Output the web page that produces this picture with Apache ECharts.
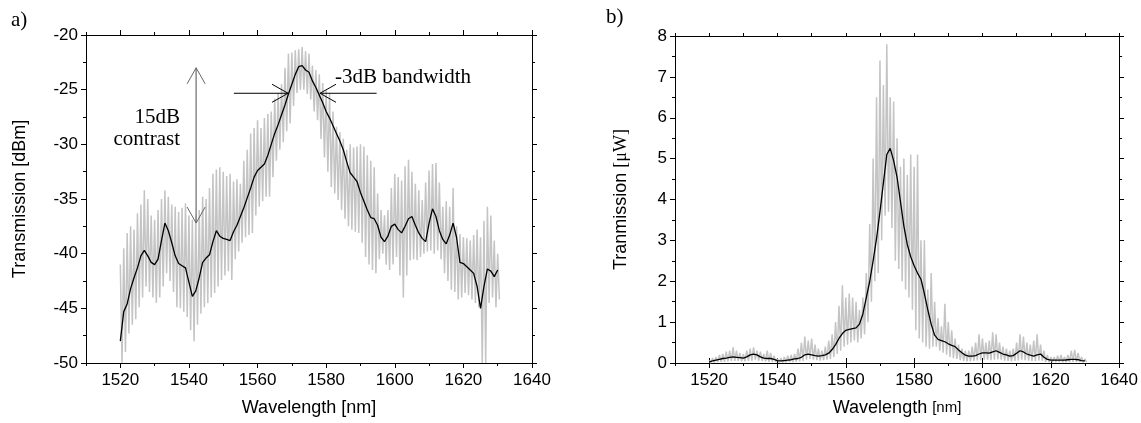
<!DOCTYPE html>
<html><head><meta charset="utf-8">
<script src="https://cdn.jsdelivr.net/npm/echarts@6/dist/echarts.min.js"></script>
<style>html,body{margin:0;padding:0;background:#fff}#c{width:1141px;height:423px}</style>
</head><body><div id="c"></div>
<script>
// wavelengths: 1520..1630 nm, 1 nm step
const wlStart = 1520;
const xMajorTicks = [1520, 1540, 1560, 1580, 1600, 1620, 1640];

// Panel a) Transmission [dBm]
const aSmooth = [
 -48.0,-45.3,-44.6,-43.2,-42.2,-41.3,-40.2,-39.7,-40.2,-40.8,
 -41.0,-40.5,-38.8,-37.2,-37.9,-39.0,-40.2,-40.9,-41.1,-41.3,
 -42.6,-43.9,-43.4,-42.2,-40.8,-40.4,-40.1,-38.9,-37.9,-38.4,
 -38.6,-38.7,-38.8,-38.0,-37.4,-36.6,-35.8,-34.9,-34.0,-33.0,
 -32.4,-32.1,-31.8,-31.0,-30.0,-29.0,-28.2,-27.3,-26.4,-25.4,
 -24.5,-23.6,-22.9,-22.8,-23.2,-23.4,-24.2,-24.8,-25.5,-26.2,
 -27.0,-27.6,-28.3,-29.0,-29.7,-30.5,-31.6,-32.6,-33.0,-33.4,
 -34.4,-35.2,-36.0,-36.7,-36.8,-37.4,-38.5,-38.9,-38.4,-37.5,
 -37.3,-37.8,-38.1,-37.5,-36.8,-36.6,-37.4,-38.1,-38.6,-38.9,
 -37.2,-35.9,-36.6,-37.9,-38.7,-39.1,-38.3,-37.2,-38.5,-40.8,
 -40.9,-41.2,-41.5,-41.8,-43.0,-45.0,-43.0,-41.4,-41.6,-42.1,
 -41.5];
const aRawHigh = [
 -41.0,-39.5,-38.1,-37.5,-37.8,-36.3,-35.5,-34.2,-35.0,-36.5,
 -36.9,-36.0,-35.0,-34.2,-34.8,-35.5,-35.7,-36.2,-35.8,-35.4,
 -36.5,-36.9,-36.5,-36.0,-34.8,-35.0,-34.0,-32.7,-32.3,-32.1,
 -32.5,-32.9,-32.7,-33.4,-33.2,-33.6,-31.5,-30.5,-29.0,-28.5,
 -27.8,-28.5,-27.6,-27.2,-27.0,-25.8,-25.3,-24.5,-23.0,-21.7,
 -21.6,-21.4,-21.3,-21.1,-21.5,-21.7,-22.8,-23.2,-23.6,-24.4,
 -25.0,-25.3,-27.0,-28.4,-28.9,-29.5,-30.5,-30.0,-30.3,-30.2,
 -30.0,-30.2,-31.0,-31.5,-32.1,-34.5,-36.0,-36.5,-36.0,-34.0,
 -32.7,-33.0,-33.3,-32.0,-31.4,-32.5,-33.6,-34.2,-35.1,-33.5,
 -32.4,-31.8,-31.7,-33.5,-35.7,-35.2,-35.7,-34.0,-37.5,-38.2,
 -38.5,-38.6,-38.8,-38.3,-37.8,-38.5,-37.0,-35.7,-36.5,-38.8,
 -40.0];
const aRawLow = [
 -50.0,-49.0,-47.3,-46.5,-46.0,-44.9,-44.0,-43.0,-43.5,-44.0,
 -44.5,-44.0,-43.0,-41.8,-42.5,-43.5,-44.9,-45.0,-45.3,-45.8,
 -47.0,-48.0,-46.5,-45.5,-44.9,-44.5,-44.0,-43.6,-43.0,-42.4,
 -42.0,-41.6,-42.4,-40.5,-39.8,-39.0,-38.5,-38.3,-38.1,-36.5,
 -35.7,-35.2,-34.8,-34.8,-33.0,-31.5,-30.5,-29.8,-28.8,-28.1,
 -26.5,-25.3,-25.0,-25.0,-25.4,-25.9,-27.0,-27.8,-29.5,-31.2,
 -32.5,-33.9,-34.5,-35.1,-36.0,-36.8,-37.5,-37.8,-38.0,-38.1,
 -39.0,-40.3,-41.0,-41.5,-41.8,-40.5,-40.0,-41.0,-41.5,-41.0,
 -40.3,-42.0,-44.0,-42.0,-40.6,-40.5,-40.6,-40.3,-40.0,-39.8,
 -39.7,-40.0,-39.7,-40.5,-41.8,-42.5,-43.3,-43.5,-44.2,-44.0,
 -43.6,-43.8,-44.2,-44.5,-44.9,-50.0,-50.0,-44.5,-44.0,-44.9,
 -44.2];

// Panel b) Tranmission [uW]
const bSmooth = [
 0.03,0.05,0.07,0.09,0.11,0.12,0.14,0.15,0.14,0.13,
 0.12,0.15,0.20,0.22,0.20,0.15,0.12,0.11,0.11,0.09,
 0.06,0.05,0.06,0.07,0.08,0.10,0.11,0.14,0.20,0.22,
 0.20,0.18,0.17,0.18,0.20,0.24,0.33,0.45,0.60,0.72,
 0.80,0.82,0.84,0.86,0.95,1.20,1.60,2.00,2.50,3.05,
 3.70,4.40,5.10,5.25,4.95,4.55,3.95,3.35,2.90,2.60,
 2.38,2.20,2.05,1.70,1.30,0.95,0.68,0.58,0.55,0.52,
 0.47,0.43,0.40,0.32,0.25,0.19,0.17,0.17,0.18,0.22,
 0.25,0.25,0.24,0.27,0.30,0.26,0.22,0.20,0.17,0.18,
 0.24,0.30,0.27,0.22,0.19,0.17,0.20,0.22,0.14,0.09,
 0.07,0.07,0.07,0.07,0.07,0.08,0.09,0.09,0.08,0.06,
 0.05];
const bRawHigh = [
 0.06,0.12,0.15,0.20,0.22,0.28,0.30,0.38,0.30,0.25,
 0.22,0.30,0.35,0.38,0.30,0.28,0.22,0.30,0.25,0.18,
 0.10,0.12,0.15,0.18,0.20,0.22,0.35,0.50,0.65,0.55,
 0.60,0.45,0.35,0.30,0.40,0.55,0.70,1.00,1.40,1.90,
 1.60,1.70,1.60,1.50,1.30,1.60,2.20,3.40,5.00,6.50,
 7.40,6.80,7.80,6.50,6.40,5.50,4.80,5.00,4.60,5.10,
 4.80,5.10,3.00,3.00,1.80,2.20,1.50,1.10,0.90,1.45,
 1.00,0.80,0.60,0.45,0.35,0.30,0.30,0.40,0.50,0.70,
 0.60,0.50,0.55,0.75,0.70,0.50,0.40,0.35,0.30,0.35,
 0.50,0.70,0.65,0.50,0.45,0.55,0.70,0.45,0.30,0.20,
 0.15,0.15,0.18,0.20,0.15,0.20,0.30,0.32,0.25,0.15,
 0.10];
const bRawLow = [
 0.00,0.01,0.02,0.03,0.03,0.04,0.05,0.05,0.05,0.04,
 0.04,0.05,0.06,0.08,0.06,0.05,0.04,0.03,0.03,0.02,
 0.01,0.01,0.01,0.02,0.02,0.03,0.04,0.05,0.08,0.10,
 0.08,0.07,0.06,0.07,0.08,0.10,0.15,0.22,0.30,0.40,
 0.45,0.50,0.55,0.50,0.60,0.70,1.00,1.50,2.00,2.20,
 3.00,3.60,3.70,3.30,2.50,2.30,2.00,1.80,1.60,1.30,
 0.80,0.60,0.50,0.40,0.35,0.40,0.40,0.30,0.25,0.20,
 0.15,0.12,0.10,0.07,0.05,0.04,0.04,0.05,0.06,0.07,
 0.08,0.08,0.07,0.08,0.09,0.08,0.06,0.05,0.04,0.05,
 0.06,0.08,0.07,0.06,0.05,0.05,0.06,0.05,0.03,0.02,
 0.02,0.02,0.02,0.02,0.02,0.02,0.03,0.03,0.02,0.02,
 0.02];

// annotations of panel a) in data coordinates
const annotArrows = [
  {tail:[1542.1,-37.2], tip:[1542.1,-23.0], both:true, color:'#888', head:'#666', width:1.5},
  {tail:[1553.1,-25.33], tip:[1568.9,-25.33], both:false, color:'#000', head:'#000', width:1},
  {tail:[1594.7,-25.33], tip:[1578.2,-25.33], both:false, color:'#000', head:'#000', width:1}
];
const annotTexts = [
  {text:'15dB', at:[1537.4,-27.55], align:'right'},
  {text:'contrast', at:[1537.4,-29.55], align:'right'},
  {text:'-3dB bandwidth', at:[1582.6,-23.9], align:'left'}
];

const wl = i => wlStart + i;
const line = arr => arr.map((v,i)=>[wl(i), v]);
const zigzag = (hi, lo) => { const out=[]; hi.forEach((h,i)=>{ out.push([wl(i),h]); out.push([wl(i)+0.5, lo[i]]); }); return out; };

const SANS = 'Liberation Sans', SERIF = 'Liberation Serif';
const black = '#000';

function xAxes(grid, name){
  const base = {gridIndex:grid, type:'value', min:1510, max:1640, splitLine:{show:false}};
  return [
    Object.assign({}, base, {position:'bottom', interval:10,
      axisLine:{show:true, onZero:false, lineStyle:{color:black, width:1}},
      axisTick:{show:true, length:3, lineStyle:{color:black}},
      axisLabel:{show:true, color:black, fontFamily:SANS, fontSize:17, margin:9,
        formatter: v => (v % 20 === 0 ? String(v) : '')},
      name:name, nameLocation:'middle', nameGap:36,
      nameTextStyle:{color:black, fontFamily:SANS, fontSize:18, rich:{
        a:{fontFamily:SANS, fontSize:18, color:black},
        b:{fontFamily:SANS, fontSize:15, color:black}}}}),
    Object.assign({}, base, {position:'bottom', axisLine:{show:false},
      axisTick:{show:true, length:5, customValues:xMajorTicks, lineStyle:{color:black}},
      axisLabel:{show:false}}),
    Object.assign({}, base, {position:'top', interval:10,
      axisLine:{show:true, onZero:false, lineStyle:{color:black, width:1}},
      axisTick:{show:true, length:3, lineStyle:{color:black}},
      axisLabel:{show:false}}),
    Object.assign({}, base, {position:'top', axisLine:{show:false},
      axisTick:{show:true, length:5, customValues:xMajorTicks, lineStyle:{color:black}},
      axisLabel:{show:false}})
  ];
}
function yAxes(grid, min, max, interval, name, gap){
  const base = {gridIndex:grid, type:'value', min:min, max:max, interval:interval, splitLine:{show:false},
    axisLine:{show:true, onZero:false, lineStyle:{color:black, width:1}},
    axisTick:{show:true, length:5, lineStyle:{color:black}},
    minorTick:{show:true, splitNumber:2, length:3, lineStyle:{color:black}},
    minorSplitLine:{show:false}};
  return [
    Object.assign({}, base, {position:'left',
      axisLabel:{show:true, color:black, fontFamily:SANS, fontSize:17, margin:8},
      name:name, nameLocation:'middle', nameGap:gap,
      nameTextStyle:{color:black, fontFamily:SANS, fontSize:18, rich:{
        a:{fontFamily:SANS, fontSize:18, color:black},
        b:{fontFamily:SERIF, fontSize:18, color:black}}}}),
    Object.assign({}, base, {position:'right', axisLabel:{show:false}})
  ];
}

function renderAnnot(params, api){
  if (params.dataIndex !== 0) return null;
  const ch = [];
  annotArrows.forEach(a => {
    const p0 = api.coord(a.tail), p1 = api.coord(a.tip);
    ch.push({type:'line', shape:{x1:p0[0], y1:p0[1], x2:p1[0], y2:p1[1]}, style:{stroke:a.color, lineWidth:a.width}});
    const heads = a.both ? [[p0,p1],[p1,p0]] : [[p0,p1]];
    heads.forEach(([f,t]) => {
      const dx=t[0]-f[0], dy=t[1]-f[1], L=Math.hypot(dx,dy), ux=dx/L, uy=dy/L;
      const bx=t[0]-ux*16, by=t[1]-uy*16;
      ch.push({type:'polyline', shape:{points:[[bx-uy*9, by+ux*9],[t[0],t[1]],[bx+uy*9, by-ux*9]]},
        style:{stroke:a.head, lineWidth:1, fill:null}});
    });
  });
  annotTexts.forEach(t => {
    const p = api.coord(t.at);
    ch.push({type:'text', x:p[0], y:p[1], style:{text:t.text, fill:black, fontFamily:SERIF, fontSize:21,
      align:t.align, verticalAlign:'middle'}});
  });
  return {type:'group', children:ch};
}

const chart = echarts.init(document.getElementById('c'), null, {renderer:'canvas'});
chart.setOption({
  animation:false,
  backgroundColor:'#fff',
  grid:[
    {left:86, top:35, width:446, height:328},
    {left:675, top:36, width:445, height:327}
  ],
  xAxis: [].concat(xAxes(0, '{a|Wavelength [nm]}'), xAxes(1, '{a|Wavelength }{b|[nm]}')),
  yAxis: [].concat(yAxes(0, -50, -20, 5, '{a|Transmission [dBm]}', 57), yAxes(1, 0, 8, 1, '{a|Tranmission }{b|[μW]}', 45)),
  graphic:[
    {type:'text', left:11, top:10, style:{text:'a)', fontFamily:SERIF, fontSize:21, fill:black}},
    {type:'text', left:606, top:7, style:{text:'b)', fontFamily:SERIF, fontSize:21, fill:black}}
  ],
  series:[
    {type:'line', xAxisIndex:0, yAxisIndex:0, data:zigzag(aRawHigh, aRawLow), showSymbol:false, symbol:'none',
      lineStyle:{color:'#c4c4c4', width:1.5}, sampling:null, z:2},
    {type:'line', xAxisIndex:0, yAxisIndex:0, data:line(aSmooth), showSymbol:false, symbol:'none',
      lineStyle:{color:black, width:1.3}, z:3},
    {type:'custom', xAxisIndex:0, yAxisIndex:0, data:[[1542,-30]], renderItem:renderAnnot, clip:false, silent:true, z:5},
    {type:'line', xAxisIndex:4, yAxisIndex:2, data:zigzag(bRawHigh, bRawLow), showSymbol:false, symbol:'none',
      lineStyle:{color:'#c4c4c4', width:1.5}, z:2},
    {type:'line', xAxisIndex:4, yAxisIndex:2, data:line(bSmooth), showSymbol:false, symbol:'none',
      lineStyle:{color:black, width:1.3}, z:3}
  ]
});
</script>
</body></html>
